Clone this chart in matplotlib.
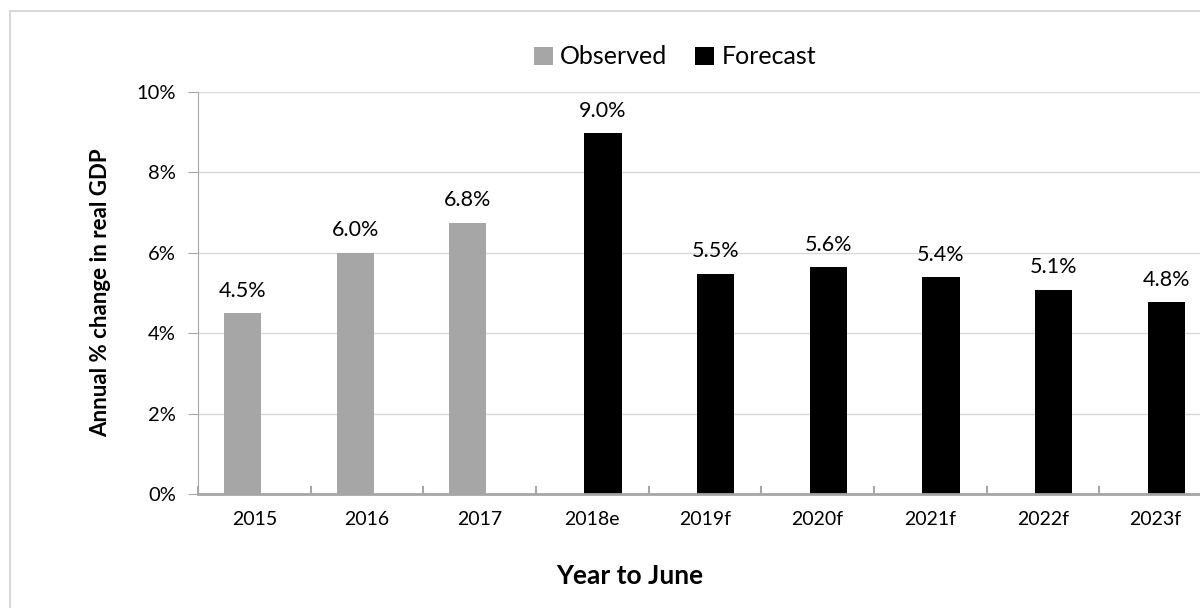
import numpy as np
import matplotlib.pyplot as plt
from matplotlib.patches import Rectangle

plt.rcParams['font.family'] = ['Lato', 'DejaVu Sans']

years = ['2015', '2016', '2017', '2018e', '2019f', '2020f', '2021f', '2022f', '2023f']
observed = [4.5, 6.0, 6.75, np.nan, np.nan, np.nan, np.nan, np.nan, np.nan]
forecast = [np.nan, np.nan, np.nan, 8.97, 5.48, 5.64, 5.39, 5.08, 4.77]

fig = plt.figure(figsize=(12, 6.08), dpi=100)
# chart border (Excel-like frame, cut off at right/bottom)
fig.patches.append(Rectangle((10/1200, -0.1), 1.2, 1 - 11/608 + 0.1, transform=fig.transFigure,
                             fill=False, edgecolor='#d9d9d9', lw=1.5))

ax = fig.add_axes([198/1200, 114/608, 1014/1200, 402/608])
x = np.arange(len(years))
w = 0.33
b1 = ax.bar(x - 0.105, observed, w, color='#a6a6a6', label='Observed', zorder=3)
b2 = ax.bar(x + 0.095, forecast, w, color='black', label='Forecast', zorder=3)

for bars, vals in [(b1, observed), (b2, forecast)]:
    for r, v in zip(bars, vals):
        if np.isnan(v):
            continue
        ax.annotate(f'{v:.1f}%', (r.get_x() + r.get_width()/2, v), xytext=(0, 9),
                    textcoords='offset points', ha='center', va='bottom', fontsize=15.5)

ax.set_xlim(-0.5, 8.5)
ax.set_ylim(0, 10)
ax.set_yticks(range(0, 11, 2))
ax.set_yticklabels([f'{t}%' for t in range(0, 11, 2)], fontsize=14.5)
ax.yaxis.grid(True, color='#d9d9d9', lw=1, zorder=0)
ax.set_xticks(x)
ax.set_xticklabels(years, fontsize=14)
ax.set_xticks(np.arange(-0.5, 9, 1), minor=True)
ax.tick_params(axis='x', which='major', length=0, pad=12)
ax.tick_params(axis='x', which='minor', direction='in', length=6, color='#a6a6a6', width=1.5)
ax.tick_params(axis='y', length=7, color='#a6a6a6', pad=9)

for s in ['top', 'right']:
    ax.spines[s].set_visible(False)
ax.spines['left'].set_color('#a6a6a6')
ax.spines['bottom'].set_color('#a6a6a6')
ax.spines['bottom'].set_linewidth(2)
ax.spines['bottom'].set_zorder(4)

ax.set_ylabel('Annual % change in real GDP', fontsize=16, fontweight='bold', labelpad=18)
fig.text(630/1200, 1 - 576/608, 'Year to June', ha='center', va='center', fontsize=19, fontweight='bold')

fig.legend(loc='center', bbox_to_anchor=(675/1200, 1 - 57/608), ncol=2, frameon=False, fontsize=18,
           handlelength=0.75, handleheight=0.75, handletextpad=0.3, columnspacing=1.1)

fig.savefig('out.png', dpi=100)
